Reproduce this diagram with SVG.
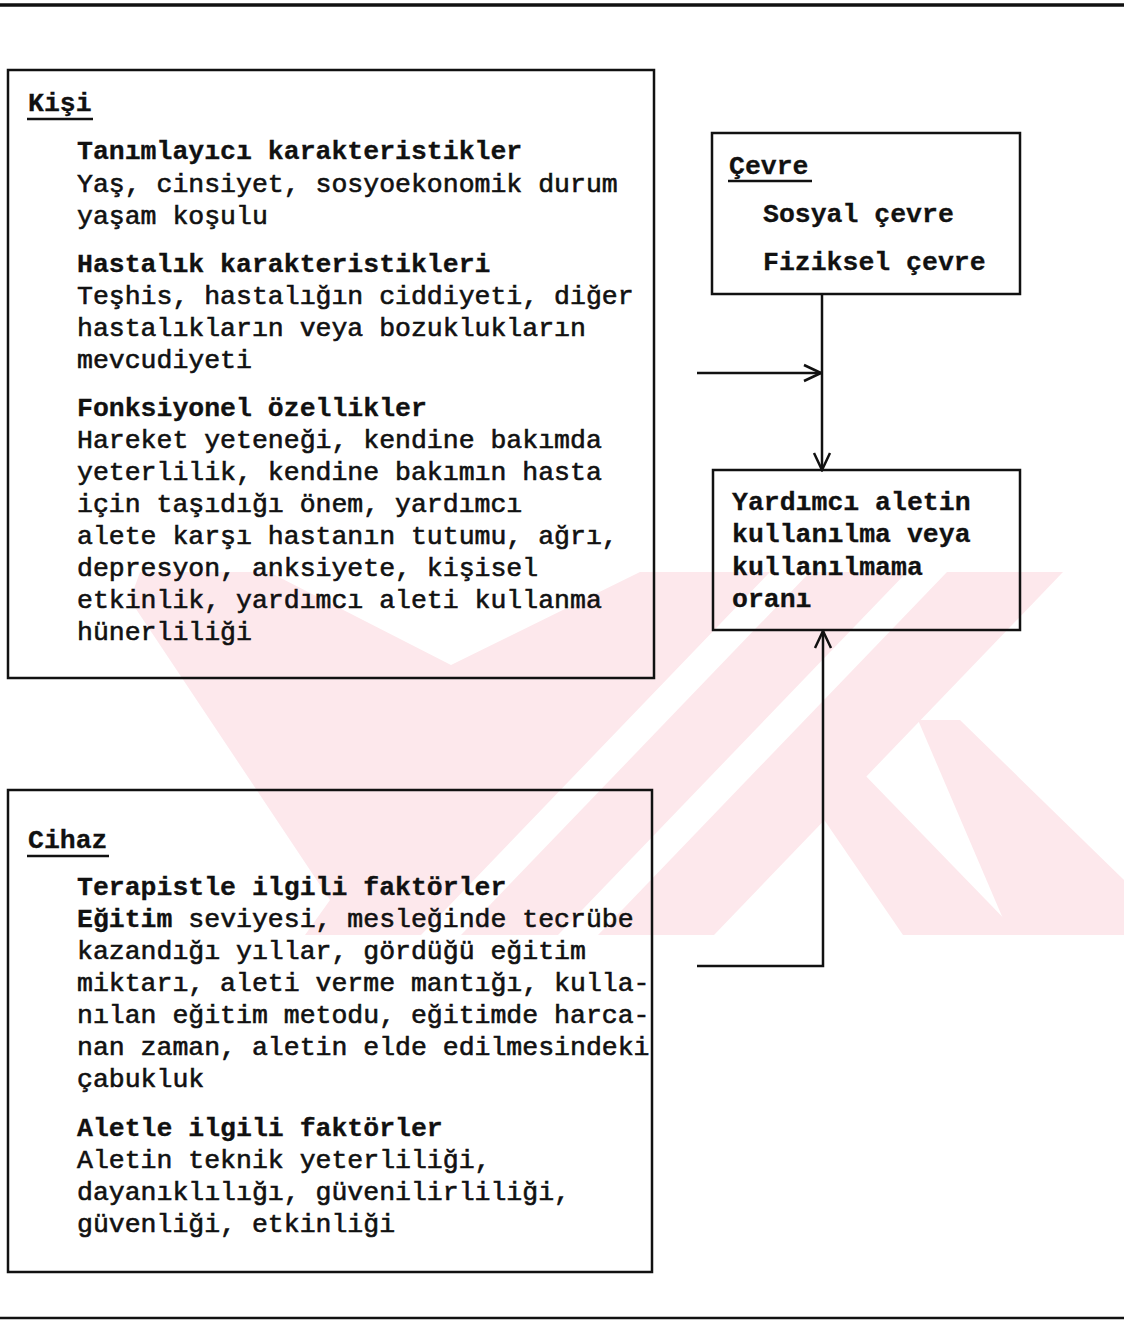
<svg xmlns="http://www.w3.org/2000/svg" width="1124" height="1321" viewBox="0 0 1124 1321">
<defs>
<style>
.box{fill:none;stroke:#111;stroke-width:2.5}
.t{font-family:"Liberation Mono","Courier New",monospace;font-size:26.5px;fill:#111;stroke:#111;stroke-width:0.6}
.b{font-weight:bold;stroke-width:0.3}
.ul{stroke:#111;stroke-width:2.5}
.rule{stroke:#111}
.conn{fill:none;stroke:#111;stroke-width:2.5}
.wm{fill:#fde8ec}
</style>
<marker id="arr" markerUnits="userSpaceOnUse" markerWidth="22" markerHeight="22" viewBox="0 0 22 22" refX="20" refY="11" orient="auto">
<path d="M3,3 L20,11 L3,19" fill="none" stroke="#111" stroke-width="2.5"/>
</marker>
<clipPath id="wmclip"><rect x="0" y="572" width="1124" height="363"/></clipPath>
</defs>
<rect width="1124" height="1321" fill="#fff"/>
<g id="watermark" clip-path="url(#wmclip)">
<polygon class="wm" points="140,572 269,572 451,665 640,572 770,572 421,935 305,935 330,900 130,600"/>
<polygon class="wm" points="810,572 907,572 558,935 461,935"/>
<polygon class="wm" points="947,572 1063,572 714,935 598,935"/>
<polygon class="wm" points="790,770 860,770 1020,935 903,935"/>
<polygon class="wm" points="918,720 960,720 1124,880 1124,935 1010,935"/>
</g>
<g id="rules">
<line class="rule" x1="0" y1="5" x2="1124" y2="5" stroke-width="3.5"/>
<line class="rule" x1="0" y1="1318" x2="1124" y2="1318" stroke-width="2.5"/>
</g>
<g id="kisi">
<rect class="box" x="8" y="70" width="646" height="608"/>
<text class="t b" x="28" y="111">Kişi</text>
<line class="ul" x1="27" y1="119" x2="93" y2="119"/>
<text class="t b" x="77" y="159">Tanımlayıcı karakteristikler</text>
<text class="t" x="77" y="192">Yaş, cinsiyet, sosyoekonomik durum</text>
<text class="t" x="77" y="224">yaşam koşulu</text>
<text class="t b" x="77" y="272">Hastalık karakteristikleri</text>
<text class="t" x="77" y="304">Teşhis, hastalığın ciddiyeti, diğer</text>
<text class="t" x="77" y="336">hastalıkların veya bozuklukların</text>
<text class="t" x="77" y="368">mevcudiyeti</text>
<text class="t b" x="77" y="416">Fonksiyonel özellikler</text>
<text class="t" x="77" y="448">Hareket yeteneği, kendine bakımda</text>
<text class="t" x="77" y="480">yeterlilik, kendine bakımın hasta</text>
<text class="t" x="77" y="512">için taşıdığı önem, yardımcı</text>
<text class="t" x="77" y="544">alete karşı hastanın tutumu, ağrı,</text>
<text class="t" x="77" y="576">depresyon, anksiyete, kişisel</text>
<text class="t" x="77" y="608">etkinlik, yardımcı aleti kullanma</text>
<text class="t" x="77" y="640">hünerliliği</text>
</g>
<g id="cevre">
<rect class="box" x="712" y="133" width="308" height="161"/>
<text class="t b" x="729" y="174">Çevre</text>
<line class="ul" x1="728" y1="181" x2="812" y2="181"/>
<text class="t b" x="763" y="222">Sosyal çevre</text>
<text class="t b" x="763" y="270">Fiziksel çevre</text>
</g>
<g id="yardimci">
<rect class="box" x="713" y="470" width="307" height="160"/>
<text class="t b" x="732" y="510">Yardımcı aletin</text>
<text class="t b" x="732" y="542">kullanılma veya</text>
<text class="t b" x="732" y="575">kullanılmama</text>
<text class="t b" x="732" y="607">oranı</text>
</g>
<g id="cihaz">
<rect class="box" x="8" y="790" width="644" height="482"/>
<text class="t b" x="28" y="848">Cihaz</text>
<line class="ul" x1="27" y1="856" x2="109" y2="856"/>
<text class="t b" x="77" y="895">Terapistle ilgili faktörler</text>
<text class="t" x="77" y="927"><tspan class="b">Eğitim</tspan> seviyesi, mesleğinde tecrübe</text>
<text class="t" x="77" y="959">kazandığı yıllar, gördüğü eğitim</text>
<text class="t" x="77" y="991">miktarı, aleti verme mantığı, kulla-</text>
<text class="t" x="77" y="1023">nılan eğitim metodu, eğitimde harca-</text>
<text class="t" x="77" y="1055">nan zaman, aletin elde edilmesindeki</text>
<text class="t" x="77" y="1087">çabukluk</text>
<text class="t b" x="77" y="1136">Aletle ilgili faktörler</text>
<text class="t" x="77" y="1168">Aletin teknik yeterliliği,</text>
<text class="t" x="77" y="1200">dayanıklılığı, güvenilirliliği,</text>
<text class="t" x="77" y="1232">güvenliği, etkinliği</text>
</g>
<g id="connectors">
<line class="conn" x1="822" y1="294" x2="822" y2="470" marker-end="url(#arr)"/>
<line class="conn" x1="697" y1="373" x2="821" y2="373" marker-end="url(#arr)"/>
<polyline class="conn" points="697,966 823,966 823,631" marker-end="url(#arr)"/>
</g>
</svg>
